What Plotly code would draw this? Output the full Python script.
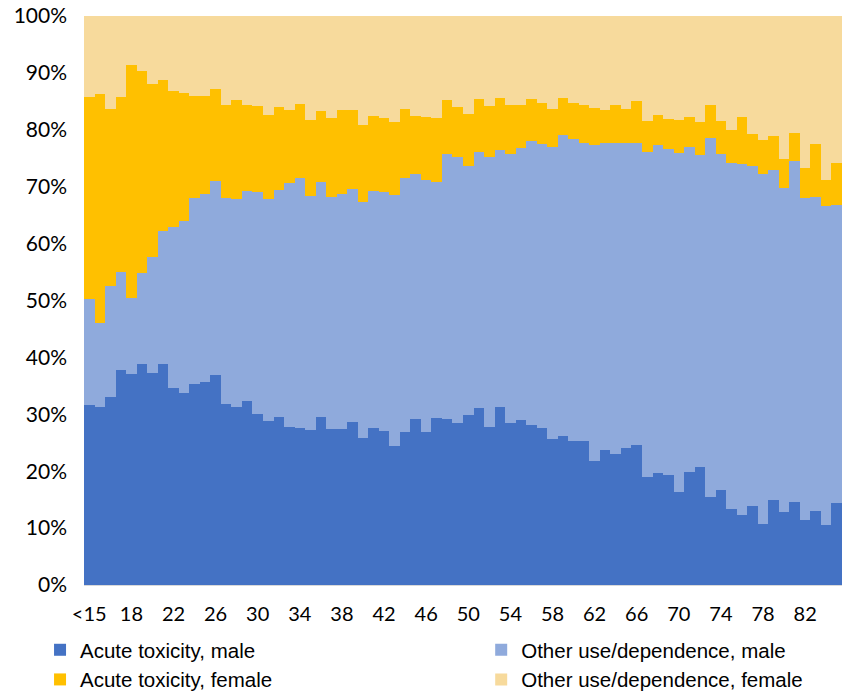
import plotly.graph_objects as go

# Age groups: under-15, then single years 15..85
ages = ["<15"] + [str(a) for a in range(15, 86)]

# Share of presentations (%) by age, split by type and sex
acute_male = [
    31.6, 31.2, 33.0, 37.8, 37.0, 38.8, 37.3, 38.8, 34.7, 33.7, 35.4, 35.7,
    36.9, 31.8, 31.2, 32.4, 30.1, 28.9, 29.5, 27.8, 27.6, 27.2, 29.6, 27.5,
    27.5, 28.6, 25.8, 27.6, 27.1, 24.4, 26.9, 29.2, 26.9, 29.3, 29.1, 28.4,
    29.8, 31.1, 27.8, 31.3, 28.5, 29.0, 28.1, 27.6, 25.7, 26.2, 25.3, 25.3,
    21.8, 23.8, 23.1, 24.1, 24.6, 19.0, 19.6, 19.3, 16.4, 19.9, 20.7, 15.5,
    16.7, 13.3, 12.3, 13.9, 10.8, 14.9, 12.9, 14.6, 11.5, 13.0, 10.5, 14.4,
]
other_male = [
    18.7, 14.8, 19.5, 17.2, 13.5, 16.0, 20.4, 23.5, 28.3, 30.3, 32.7, 33.0,
    34.1, 36.2, 36.6, 36.9, 38.9, 38.9, 39.9, 42.9, 44.0, 41.2, 41.3, 40.7,
    41.2, 41.0, 41.5, 41.6, 42.0, 44.1, 44.6, 43.0, 44.3, 41.6, 46.6, 46.8,
    43.8, 45.0, 47.4, 45.1, 47.2, 47.8, 50.0, 49.9, 51.3, 52.8, 53.0, 52.3,
    55.5, 53.9, 54.5, 53.5, 53.0, 57.1, 57.7, 57.3, 59.6, 57.1, 54.8, 63.1,
    59.0, 60.9, 61.7, 59.8, 61.4, 58.1, 56.8, 60.0, 56.5, 55.2, 56.1, 52.3,
]
acute_female = [
    35.5, 40.3, 31.2, 30.8, 40.9, 35.6, 30.3, 26.5, 23.9, 22.5, 17.8, 17.2,
    16.2, 16.4, 17.4, 15.1, 15.2, 14.8, 14.6, 12.8, 12.9, 13.3, 12.4, 13.8,
    14.8, 13.8, 13.6, 13.3, 13.0, 12.9, 12.2, 10.2, 11.0, 11.1, 9.5, 8.8,
    9.2, 9.3, 9.0, 9.2, 8.7, 7.6, 7.3, 7.2, 6.7, 6.6, 6.4, 6.8,
    6.5, 5.7, 6.8, 6.1, 7.5, 5.4, 5.3, 5.3, 5.7, 5.2, 5.9, 5.8,
    5.8, 5.8, 8.2, 5.6, 6.0, 5.9, 5.1, 4.8, 5.3, 9.3, 4.6, 7.5,
]
other_female = [
    14.2, 13.7, 16.3, 14.2, 8.6, 9.6, 12.0, 11.2, 13.1, 13.5, 14.1, 14.1,
    12.8, 15.6, 14.8, 15.6, 15.8, 17.4, 16.0, 16.5, 15.5, 18.3, 16.7, 18.0,
    16.5, 16.6, 19.1, 17.5, 17.9, 18.6, 16.3, 17.6, 17.8, 18.0, 14.8, 16.0,
    17.2, 14.6, 15.8, 14.4, 15.6, 15.6, 14.6, 15.3, 16.3, 14.4, 15.3, 15.6,
    16.2, 16.6, 15.6, 16.3, 14.9, 18.5, 17.4, 18.1, 18.3, 17.8, 18.6, 15.6,
    18.5, 20.0, 17.8, 20.7, 21.8, 21.1, 25.2, 20.6, 26.7, 22.5, 28.8, 25.8,
]

tick_labels = ages[::4]
y_ticks = list(range(0, 101, 10))

series = [
    ("Acute toxicity, male", acute_male, "#4472C4", "legend"),
    ("Other use/dependence, male", other_male, "#8FAADC", "legend2"),
    ("Acute toxicity, female", acute_female, "#FFC000", "legend"),
    ("Other use/dependence, female", other_female, "#F7DA9C", "legend2"),
]

fig = go.Figure()
for name, vals, color, leg in series:
    fig.add_trace(go.Bar(
        x=ages, y=vals, name=name, legend=leg,
        marker=dict(color=color, line=dict(width=0)),
        hovertemplate="%{x}: %{y:.1f}%<extra>" + name + "</extra>",
    ))

tick_font = dict(family="Lato, Roboto, sans-serif", size=20, color="#000000")
legend_font = dict(family="Liberation Sans, Arial, sans-serif", size=20.5, color="#000000")

legend_common = dict(
    orientation="v", xanchor="left", y=-0.079, yanchor="top",
    font=legend_font, tracegroupgap=0, traceorder="normal",
    bgcolor="rgba(0,0,0,0)", itemclick=False, itemdoubleclick=False,
)

fig.update_layout(
    width=846, height=694,
    margin=dict(l=84, r=4, t=16, b=109, autoexpand=False),
    barmode="stack", bargap=0,
    plot_bgcolor="white", paper_bgcolor="white",
    xaxis=dict(
        type="category", tickmode="array", tickvals=tick_labels, ticktext=tick_labels,
        tickangle=0, tickfont=tick_font, showgrid=False, ticks="",
        showline=True, linecolor="#D9D9D9", linewidth=1,
        ticklabelstandoff=11,
    ),
    yaxis=dict(
        range=[0, 100], tickmode="array", tickvals=y_ticks,
        ticktext=[f"{v}%" for v in y_ticks], tickfont=dict(tick_font, size=21),
        showgrid=False, zeroline=False, ticks="", ticklabelstandoff=16,
    ),
    legend=dict(legend_common, x=-0.058),
    legend2=dict(legend_common, x=0.524),
    showlegend=True,
)

fig.write_html("out.html")
